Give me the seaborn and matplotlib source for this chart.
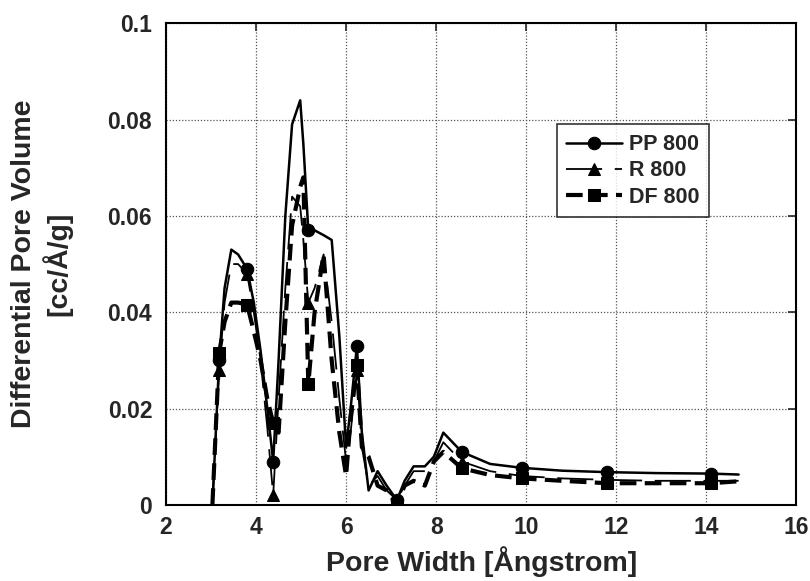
import matplotlib
matplotlib.use("Agg")
import matplotlib.pyplot as plt
import numpy as np
import seaborn as sns

# ── Data ──────────────────────────────────────────────────────────────────────
pore_width = [3.03, 3.18, 3.30, 3.45, 3.60, 3.80, 3.95, 4.10, 4.25, 4.38,
              4.50, 4.65, 4.80, 4.98, 5.05, 5.16, 5.30, 5.50, 5.68, 5.85,
              6.00, 6.10, 6.24, 6.35, 6.50, 6.70, 6.90, 7.13, 7.30, 7.50,
              7.75, 7.95, 8.16, 8.57, 9.20, 9.90, 10.80, 11.80, 12.90, 14.10,
              14.72]

pp800 = [0.000, 0.030, 0.045, 0.053, 0.052, 0.049, 0.042, 0.032, 0.020, 0.009,
         0.030, 0.060, 0.079, 0.084, 0.075, 0.057, 0.057, 0.056, 0.055, 0.035,
         0.012, 0.020, 0.033, 0.015, 0.003, 0.007, 0.004, 0.001, 0.005, 0.008,
         0.008, 0.010, 0.015, 0.011, 0.0085, 0.0077, 0.0071, 0.0068, 0.0066, 0.0065,
         0.0063]

r800 = [0.000, 0.028, 0.042, 0.050, 0.050, 0.048, 0.040, 0.030, 0.016, 0.002,
        0.022, 0.045, 0.064, 0.062, 0.055, 0.042, 0.045, 0.052, 0.038, 0.022,
        0.009, 0.015, 0.028, 0.012, 0.004, 0.006, 0.003, 0.001, 0.004, 0.007,
        0.007, 0.009, 0.013, 0.009, 0.0070, 0.0060, 0.0055, 0.0052, 0.0050, 0.0050,
        0.0050]

df800 = [0.000, 0.0316, 0.038, 0.042, 0.042, 0.0416, 0.036, 0.030, 0.022, 0.017,
         0.015, 0.038, 0.058, 0.066, 0.068, 0.025, 0.040, 0.052, 0.030, 0.015,
         0.006, 0.018, 0.029, 0.012, 0.010, 0.004, 0.003, 0.000, 0.004, 0.005,
         0.004, 0.009, 0.011, 0.0076, 0.0062, 0.0055, 0.0050, 0.0045, 0.0045, 0.0045,
         0.0049]

labels = ["PP 800", "R 800", "DF 800"]
marker_idx = [1, 5, 9, 15, 22, 27, 33, 35, 37, 39]

# ── Plot ──────────────────────────────────────────────────────────────────────
sns.set_style("white")
plt.rcParams["font.family"] = ["Liberation Sans", "DejaVu Sans"]
plt.rcParams["font.weight"] = "bold"

fig, ax = plt.subplots(figsize=(8.1, 5.81), dpi=100)

styles = [
    dict(linestyle="-", marker="o", lw=1.8, ms=9),
    dict(linestyle=(0, (20, 7)), marker="^", lw=1.3, ms=8),
    dict(linestyle=(0, (4, 2)), marker="s", lw=3.0, ms=8),
]
for y, lab, st in zip([pp800, r800, df800], labels, styles):
    sns.lineplot(x=pore_width, y=y, ax=ax, color="black", label=lab,
                 linestyle=st["linestyle"], linewidth=st["lw"],
                 marker=st["marker"], markersize=st["ms"],
                 markeredgecolor="black", markerfacecolor="black",
                 markevery=marker_idx, sort=False, estimator=None)

ax.set_xlim(2, 16)
ax.set_ylim(0, 0.1)
ax.set_xticks(np.arange(2, 17, 2))
ax.set_yticks([0, 0.02, 0.04, 0.06, 0.08, 0.1])
ax.set_yticklabels(["0", "0.02", "0.04", "0.06", "0.08", "0.1"])
ax.tick_params(direction="in", top=True, right=True, length=6, width=1.2,
               labelsize=16.5)
ax.tick_params(axis="y", pad=10)
ax.tick_params(axis="x", pad=8)
for lbl in ax.get_xticklabels() + ax.get_yticklabels():
    lbl.set_fontweight("bold")
ax.grid(True, color="#555555", linestyle=(0, (1, 1.5)), linewidth=0.9)
for sp in ax.spines.values():
    sp.set_color("black")
    sp.set_linewidth(1.5)

ax.set_xlabel("Pore Width [Ångstrom]", fontsize=20.5, fontweight="bold", labelpad=5)
ax.set_ylabel("Differential Pore Volume\n[cc/Å/g]", fontsize=20.5,
              fontweight="bold", linespacing=1.2)
ax.yaxis.set_label_coords(-0.148, 0.5)

leg = ax.legend(loc="upper left", bbox_to_anchor=(0.613, 0.799), fontsize=15.5,
                frameon=True, fancybox=False, edgecolor="black",
                handlelength=2.6, borderpad=0.45, labelspacing=0.25,
                handletextpad=0.3, borderaxespad=0.2)
leg.get_frame().set_linewidth(1.2)
for t in leg.get_texts():
    t.set_fontweight("bold")

fig.subplots_adjust(left=0.205, right=0.983, top=0.96, bottom=0.131)
fig.savefig("out.png", dpi=100)
